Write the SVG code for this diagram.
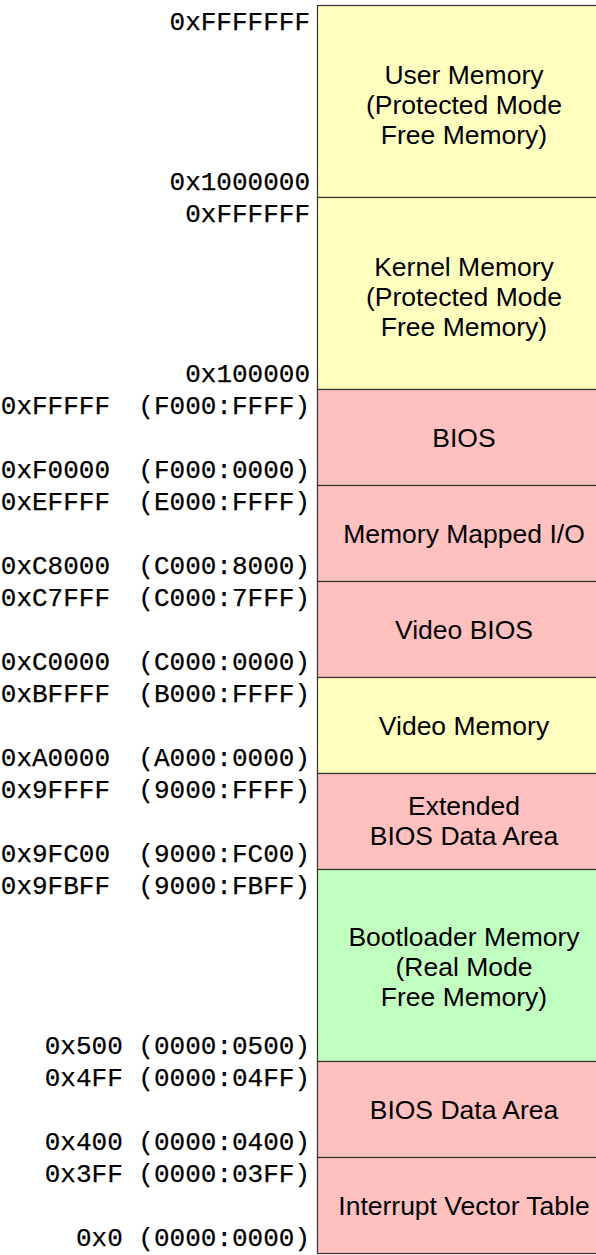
<svg xmlns="http://www.w3.org/2000/svg" width="596" height="1255" viewBox="0 0 596 1255">
<style>
.y{fill:#ffffc0}.r{fill:#ffc0c0}.g{fill:#c0ffc0}
.blk rect{stroke:#333;stroke-width:1.2}
.t{font-family:"Liberation Sans",Arial,sans-serif;font-size:26.5px;text-anchor:middle;fill:#000}
.a{font-family:"Liberation Mono","Courier New",monospace;font-size:26px;text-anchor:end;fill:#000;stroke:#000;stroke-width:0.25}
</style>
<rect width="596" height="1255" fill="#fff"/>
<g id="user" class="blk"><rect class="y" x="317.5" y="5.5" width="300" height="192"/>
<text class="t" x="464" y="84">User Memory</text><text class="t" x="464" y="114">(Protected Mode</text><text class="t" x="464" y="144">Free Memory)</text>
<text class="a" x="310" y="30">0xFFFFFFF</text><text class="a" x="310" y="190">0x1000000</text></g>
<g id="kernel" class="blk"><rect class="y" x="317.5" y="197.5" width="300" height="192"/>
<text class="t" x="464" y="276">Kernel Memory</text><text class="t" x="464" y="306">(Protected Mode</text><text class="t" x="464" y="336">Free Memory)</text>
<text class="a" x="310" y="222">0xFFFFFF</text><text class="a" x="310" y="382">0x100000</text></g>
<g id="bios" class="blk"><rect class="r" x="317.5" y="389.5" width="300" height="96"/>
<text class="t" x="464" y="447">BIOS</text>
<text class="a" x="110" y="414">0xFFFFF</text><text class="a" x="310" y="414">(F000:FFFF)</text>
<text class="a" x="110" y="478">0xF0000</text><text class="a" x="310" y="478">(F000:0000)</text></g>
<g id="mmio" class="blk"><rect class="r" x="317.5" y="485.5" width="300" height="96"/>
<text class="t" x="464" y="543">Memory Mapped I/O</text>
<text class="a" x="110" y="510">0xEFFFF</text><text class="a" x="310" y="510">(E000:FFFF)</text>
<text class="a" x="110" y="574">0xC8000</text><text class="a" x="310" y="574">(C000:8000)</text></g>
<g id="vbios" class="blk"><rect class="r" x="317.5" y="581.5" width="300" height="96"/>
<text class="t" x="464" y="639">Video BIOS</text>
<text class="a" x="110" y="606">0xC7FFF</text><text class="a" x="310" y="606">(C000:7FFF)</text>
<text class="a" x="110" y="670">0xC0000</text><text class="a" x="310" y="670">(C000:0000)</text></g>
<g id="vmem" class="blk"><rect class="y" x="317.5" y="677.5" width="300" height="96"/>
<text class="t" x="464" y="735">Video Memory</text>
<text class="a" x="110" y="702">0xBFFFF</text><text class="a" x="310" y="702">(B000:FFFF)</text>
<text class="a" x="110" y="766">0xA0000</text><text class="a" x="310" y="766">(A000:0000)</text></g>
<g id="ebda" class="blk"><rect class="r" x="317.5" y="773.5" width="300" height="96"/>
<text class="t" x="464" y="815">Extended</text><text class="t" x="464" y="845">BIOS Data Area</text>
<text class="a" x="110" y="798">0x9FFFF</text><text class="a" x="310" y="798">(9000:FFFF)</text>
<text class="a" x="110" y="862">0x9FC00</text><text class="a" x="310" y="862">(9000:FC00)</text></g>
<g id="boot" class="blk"><rect class="g" x="317.5" y="869.5" width="300" height="192"/>
<text class="t" x="464" y="946">Bootloader Memory</text><text class="t" x="464" y="976">(Real Mode</text><text class="t" x="464" y="1006">Free Memory)</text>
<text class="a" x="110" y="894">0x9FBFF</text><text class="a" x="310" y="894">(9000:FBFF)</text>
<text class="a" x="310" y="1054">0x500 (0000:0500)</text></g>
<g id="bda" class="blk"><rect class="r" x="317.5" y="1061.5" width="300" height="96"/>
<text class="t" x="464" y="1119">BIOS Data Area</text>
<text class="a" x="310" y="1086">0x4FF (0000:04FF)</text><text class="a" x="310" y="1150">0x400 (0000:0400)</text></g>
<g id="ivt" class="blk"><rect class="r" x="317.5" y="1157.5" width="300" height="96"/>
<text class="t" x="464" y="1215">Interrupt Vector Table</text>
<text class="a" x="310" y="1182">0x3FF (0000:03FF)</text><text class="a" x="310" y="1246">0x0 (0000:0000)</text></g>
<g id="connectors"/>
</svg>
